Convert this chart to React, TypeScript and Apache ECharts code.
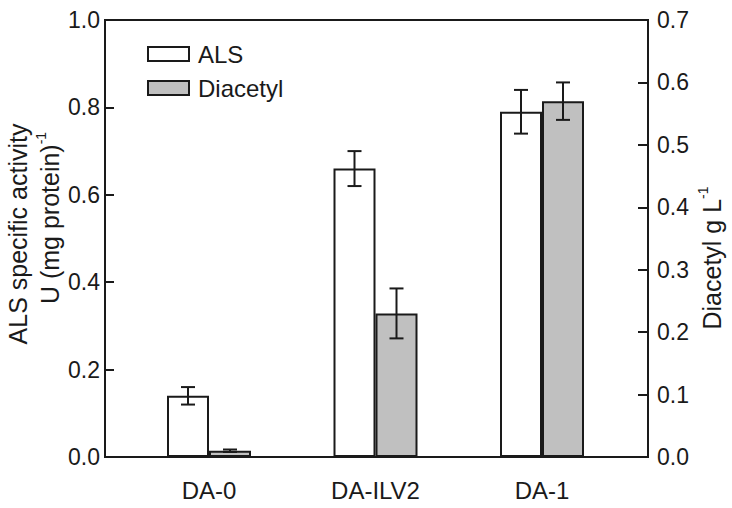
import React, { useEffect, useRef } from "react";
import * as echarts from "echarts";

const categories = ["DA-0", "DA-ILV2", "DA-1"];
const alsValues = [0.14, 0.66, 0.79];
const alsErrors = [0.02, 0.04, 0.05];
const diacetylValues = [0.01, 0.23, 0.57];
const diacetylErrors = [0.002, 0.04, 0.03];
const legendNames = ["ALS", "Diacetyl"];

const FONT = "'Liberation Sans', Arial, Helvetica, sans-serif";
const INK = "#1a1a1a";
const BAR_W = 42;
const GRAY = "#c0c0c0";

function errorSeries(name: string, values: number[], errors: number[], yAxisIndex: number, offset: number) {
  const data = values.map((v, i) => [i, v - errors[i], v + errors[i]]);
  return {
    type: "custom",
    name,
    xAxisIndex: 1,
    yAxisIndex,
    z: 5,
    encode: { x: 0, y: [1, 2] },
    data,
    renderItem: (params: any, api: any) => {
      const x = api.value(0);
      const pLo = api.coord([x, api.value(1)]);
      const pHi = api.coord([x, api.value(2)]);
      const cx = pLo[0] + offset;
      const cap = 7;
      const style = { stroke: INK, lineWidth: 2 };
      return {
        type: "group",
        children: [
          { type: "line", shape: { x1: cx, y1: pHi[1], x2: cx, y2: pLo[1] }, style },
          { type: "line", shape: { x1: cx - cap, y1: pHi[1], x2: cx + cap, y2: pHi[1] }, style },
          { type: "line", shape: { x1: cx - cap, y1: pLo[1], x2: cx + cap, y2: pLo[1] }, style },
        ],
      };
    },
  };
}

export default function App() {
  const ref = useRef<HTMLDivElement>(null);
  useEffect(() => {
    if (!ref.current) return;
    const chart = echarts.init(ref.current, null, { renderer: "svg" });
    const axisText = { fontFamily: FONT, fontSize: 23, color: INK };
    chart.setOption({
      animation: false,
      backgroundColor: "#fff",
      textStyle: { fontFamily: FONT },
      grid: [
        { left: 105, right: 84, top: 20, bottom: 51, show: true, borderColor: INK, borderWidth: 2, backgroundColor: "transparent" },
        { left: 125.75, right: 106.75, top: 20, bottom: 51 },
      ],
      legend: {
        data: legendNames,
        left: 142,
        top: 37,
        orient: "vertical",
        icon: "rect",
        itemWidth: 41,
        itemHeight: 14,
        itemGap: 10,
        textStyle: { fontFamily: FONT, fontSize: 24, color: INK, padding: [0, 0, 0, 4] },
        itemStyle: { borderColor: INK, borderWidth: 2 },
      },
      xAxis: [
        { type: "value", gridIndex: 0, min: 0, max: 1, show: false },
        {
          type: "category",
          gridIndex: 1,
          data: categories,
          axisLine: { show: false },
          axisTick: { show: false },
          axisLabel: { ...axisText, fontSize: 24, margin: 21 },
        },
      ],
      yAxis: [
        {
          type: "value",
          gridIndex: 0,
          position: "left",
          min: 0,
          max: 1,
          interval: 0.2,
          axisLine: { show: true, lineStyle: { color: INK, width: 2 } },
          axisTick: { show: true, inside: true, length: 9, lineStyle: { color: INK, width: 2 } },
          axisLabel: { ...axisText, margin: 5, formatter: (v: number) => v.toFixed(1) },
          splitLine: { show: false },
        },
        {
          type: "value",
          gridIndex: 0,
          position: "right",
          min: 0,
          max: 0.7,
          interval: 0.1,
          axisLine: { show: true, lineStyle: { color: INK, width: 2 } },
          axisTick: { show: true, inside: true, length: 10, lineStyle: { color: INK, width: 2 } },
          axisLabel: { ...axisText, margin: 9, formatter: (v: number) => v.toFixed(1) },
          splitLine: { show: false },
        },
        { type: "value", gridIndex: 1, min: 0, max: 1, show: false },
        { type: "value", gridIndex: 1, min: 0, max: 0.7, show: false },
      ],
      graphic: [
        {
          type: "text",
          x: 18,
          y: 234,
          rotation: Math.PI / 2,
          style: { text: "ALS specific activity", fontFamily: FONT, fontSize: 25, fill: INK, align: "center", verticalAlign: "middle" },
        },
        {
          type: "text",
          x: 48,
          y: 218,
          rotation: Math.PI / 2,
          style: {
            text: "{m|U (mg protein)}{s|-1}",
            align: "center",
            verticalAlign: "middle",
            rich: {
              m: { fontFamily: FONT, fontSize: 25, fill: INK, lineHeight: 28, verticalAlign: "bottom" },
              s: { fontFamily: FONT, fontSize: 14, fill: INK, lineHeight: 28, verticalAlign: "top" },
            },
          },
        },
        {
          type: "text",
          x: 710,
          y: 258,
          rotation: Math.PI / 2,
          style: {
            text: "{m|Diacetyl g L}{s|-1}",
            align: "center",
            verticalAlign: "middle",
            rich: {
              m: { fontFamily: FONT, fontSize: 25, fill: INK, lineHeight: 28, verticalAlign: "bottom" },
              s: { fontFamily: FONT, fontSize: 14, fill: INK, lineHeight: 28, verticalAlign: "top" },
            },
          },
        },
      ],
      series: [
        {
          type: "bar",
          name: "ALS",
          xAxisIndex: 1,
          yAxisIndex: 2,
          data: alsValues,
          barWidth: BAR_W,
          barGap: "0%",
          itemStyle: { color: "#ffffff", borderColor: INK, borderWidth: 2 },
        },
        {
          type: "bar",
          name: "Diacetyl",
          xAxisIndex: 1,
          yAxisIndex: 3,
          data: diacetylValues,
          barWidth: BAR_W,
          barGap: "0%",
          itemStyle: { color: GRAY, borderColor: INK, borderWidth: 2 },
        },
        errorSeries("ALS error", alsValues, alsErrors, 2, -BAR_W / 2),
        errorSeries("Diacetyl error", diacetylValues, diacetylErrors, 3, BAR_W / 2),
      ],
    });
    return () => chart.dispose();
  }, []);
  return <div ref={ref} style={{ position: "fixed", left: 0, top: 0, width: 732, height: 508 }} />;
}
